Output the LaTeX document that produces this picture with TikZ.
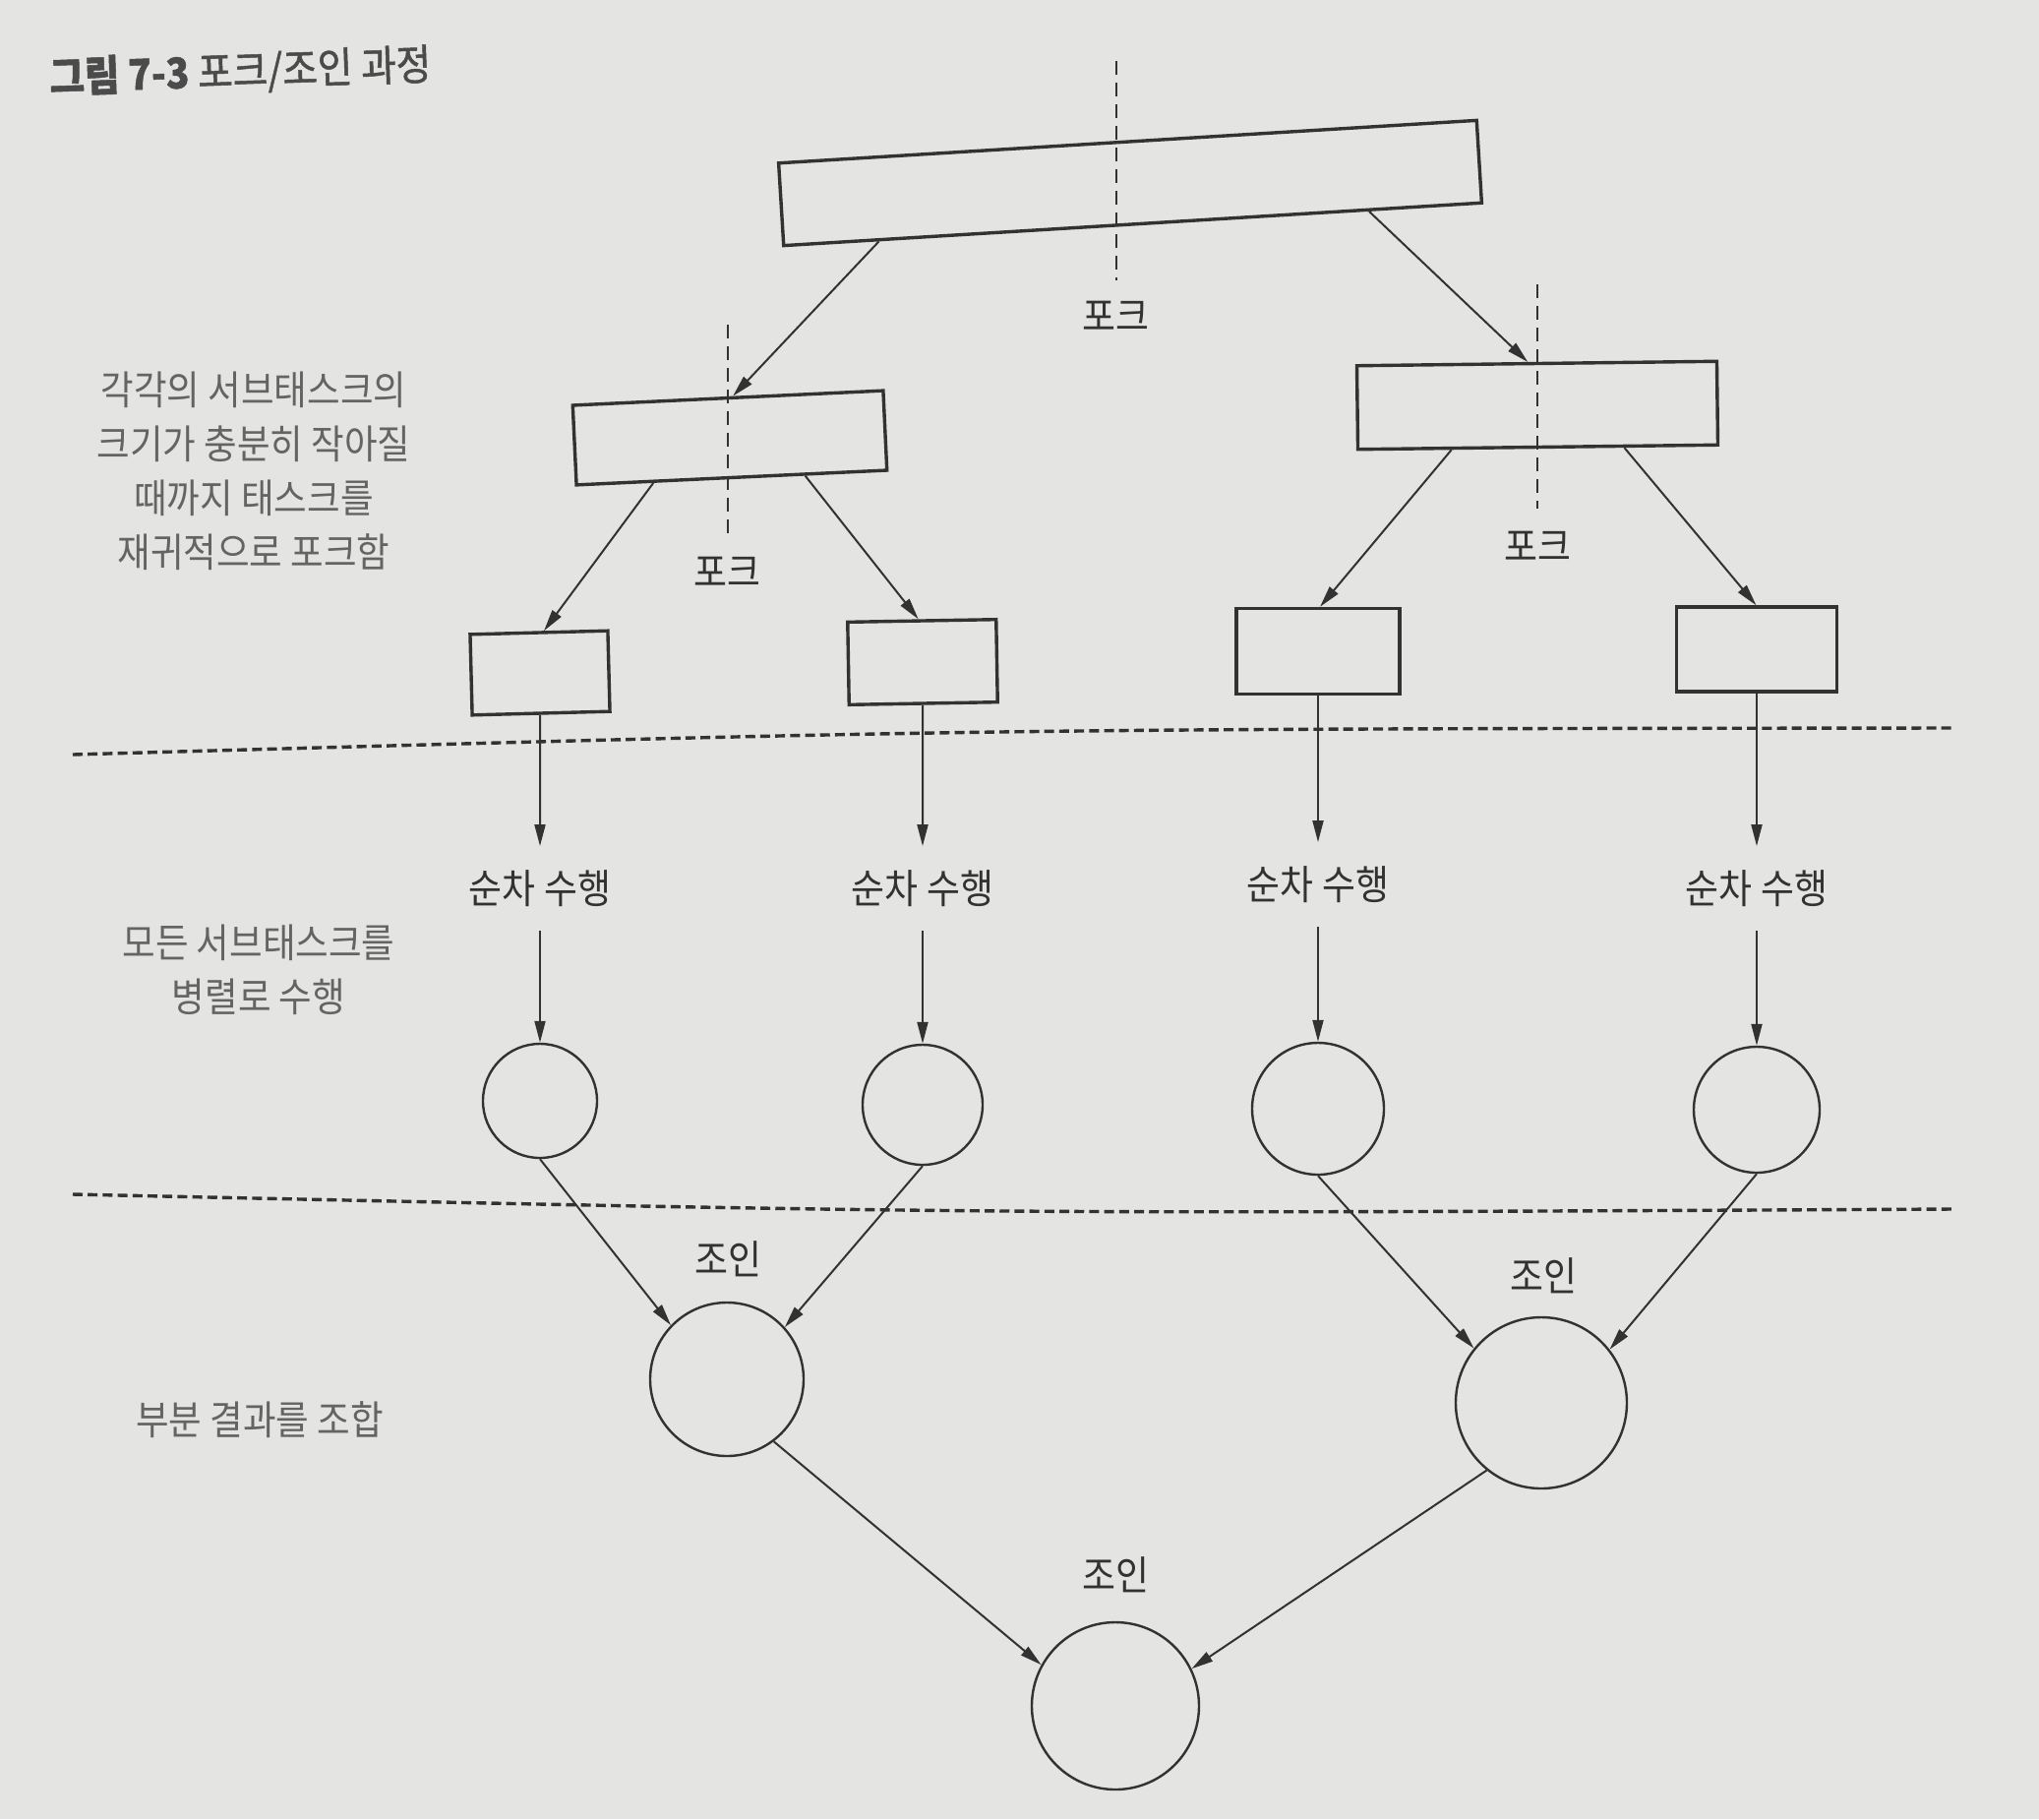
\documentclass[tikz,border=0pt]{standalone}
\usepackage{fontspec}
\usetikzlibrary{arrows.meta,calc}
\newfontfamily\kr[FakeStretch=0.9]{Noto Sans CJK KR}
\newfontfamily\krsemi[FakeStretch=0.9,FakeBold=1.2]{Noto Sans CJK KR}
\definecolor{bg}{RGB}{228,228,226}
\definecolor{ink}{RGB}{50,50,50}
\definecolor{note}{RGB}{100,100,100}
\definecolor{ttl}{RGB}{75,75,75}
\begin{document}
\begin{tikzpicture}[x=0.5pt,y=-0.5pt,
  tbox/.style={draw=ink,line width=1.7pt,inner sep=0pt},
  tcirc/.style={draw=ink,line width=1.2pt,circle,inner sep=0pt},
  arr/.style={draw=ink,line width=1pt,-{Triangle[length=11pt,width=5.5pt]}},
  lab/.style={font=\kr\fontsize{20.5}{24}\selectfont,text=ink,inner sep=12pt},
  notetxt/.style={font=\kr\fontsize{20.3}{27.5}\selectfont,text=note,align=center},
  vdash/.style={draw=ink,line width=0.9pt,dash pattern=on 7pt off 4pt},
  hdash/.style={draw=ink,line width=1.7pt,dash pattern=on 5pt off 2.6pt}]
\fill[bg] (0,0) rectangle (2073,1849);
\useasboundingbox (0,0) rectangle (2073,1849);

% title
\node[font=\krsemi\fontsize{21.5}{24}\selectfont,text=ttl,anchor=west,rotate=2,inner sep=0pt] (title) at (50,80) {\textbf{그림 7-3} 포크/조인 과정};

% boxes
\node[tbox,minimum width=355.5pt,minimum height=42pt,rotate=3.5] (top) at (1149,186) {};
\node[tbox,minimum width=158pt,minimum height=40.5pt,rotate=2.7] (ml) at (742,445) {};
\node[tbox,minimum width=183pt,minimum height=42.5pt,rotate=0.7] (mr) at (1563,412) {};
\node[tbox,minimum width=70pt,minimum height=41pt,rotate=1.5] (b1) at (549,684) {};
\node[tbox,minimum width=75.5pt,minimum height=42pt,rotate=1] (b2) at (938,673) {};
\node[tbox,minimum width=83pt,minimum height=43.5pt] (b3) at (1340,662) {};
\node[tbox,minimum width=81.5pt,minimum height=43pt] (b4) at (1786,660) {};

% fork dashed lines and labels
\coordinate (ft1) at (1135,62);  \coordinate (fb1) at (1135,285);
\coordinate (ft2) at (740,330);  \coordinate (fb2) at (740,545);
\coordinate (ft3) at (1563,289); \coordinate (fb3) at (1563,517);
\draw[vdash] (ft1) -- (fb1);
\draw[vdash] (ft2) -- (fb2);
\draw[vdash] (ft3) -- (fb3);
\node[lab] (f1) at (1134,321) {포크};
\node[lab] (f2) at (739,581) {포크};
\node[lab] (f3) at (1563,555) {포크};

% fork arrows
\draw[arr] ($(top.south west)!0.138!(top.south east)$) -- ($(ml.north west)!0.516!(ml.north east)$);
\draw[arr] ($(top.south west)!0.837!(top.south east)$) -- ($(mr.north west)!0.475!(mr.north east)$);
\draw[arr] ($(ml.south west)!0.25!(ml.south east)$) -- ($(b1.north west)!0.536!(b1.north east)$);
\draw[arr] ($(ml.south west)!0.734!(ml.south east)$) -- ($(b2.north west)!0.477!(b2.north east)$);
\draw[arr] ($(mr.south west)!0.262!(mr.south east)$) -- ($(b3.north west)!0.512!(b3.north east)$);
\draw[arr] ($(mr.south west)!0.738!(mr.south east)$) -- ($(b4.north west)!0.497!(b4.north east)$);

% horizontal dashed separators
\coordinate (h1a) at (74,767);  \coordinate (h1b) at (1985,740);
\coordinate (h2a) at (74,1214); \coordinate (h2b) at (1985,1229);
\draw[hdash] (h1a) .. controls (1000,741) .. (h1b);
\draw[hdash] (h2a) .. controls (1000,1234) .. (h2b);

% sequential labels
\node[lab] (s1) at (549,903) {순차 수행};
\node[lab] (s2) at (938,903) {순차 수행};
\node[lab] (s3) at (1340,899) {순차 수행};
\node[lab] (s4) at (1786,903) {순차 수행};

% leaf circles
\node[tcirc,minimum size=58pt] (c1) at (549,1119) {};
\node[tcirc,minimum size=61pt] (c2) at (938,1123) {};
\node[tcirc,minimum size=67pt] (c3) at (1340,1127) {};
\node[tcirc,minimum size=64pt] (c4) at (1786,1128) {};

\draw[arr] (b1) -- (s1); \draw[arr] (s1) -- (c1);
\draw[arr] (b2) -- (s2); \draw[arr] (s2) -- (c2);
\draw[arr] (b3) -- (s3); \draw[arr] (s3) -- (c3);
\draw[arr] (b4) -- (s4); \draw[arr] (s4) -- (c4);

% join circles
\node[tcirc,minimum size=78pt] (jL) at (739,1402) {};
\node[tcirc,minimum size=87pt] (jR) at (1567,1426) {};
\node[tcirc,minimum size=85pt] (jB) at (1134,1734) {};
\node[lab] (jl1) at (740,1280) {조인};
\node[lab] (jl2) at (1569,1297) {조인};
\node[lab] (jl3) at (1134,1601) {조인};

\draw[arr] (c1.south) -- (jL.136);
\draw[arr] (c2.south) -- (jL.42);
\draw[arr] (c3.south) -- (jR.141);
\draw[arr] (c4.south) -- (jR.38);
\draw[arr] (jL.-53) -- (jB.151);
\draw[arr] (jR.231) -- (jB.26);

% side notes
\node[notetxt] (n1) at (258,479) {각각의 서브태스크의\\크기가 충분히 작아질\\때까지 태스크를\\재귀적으로 포크함};
\node[notetxt] (n2) at (263,986) {모든 서브태스크를\\병렬로 수행};
\node[notetxt] (n3) at (264,1443) {부분 결과를 조합};
\end{tikzpicture}
\end{document}
